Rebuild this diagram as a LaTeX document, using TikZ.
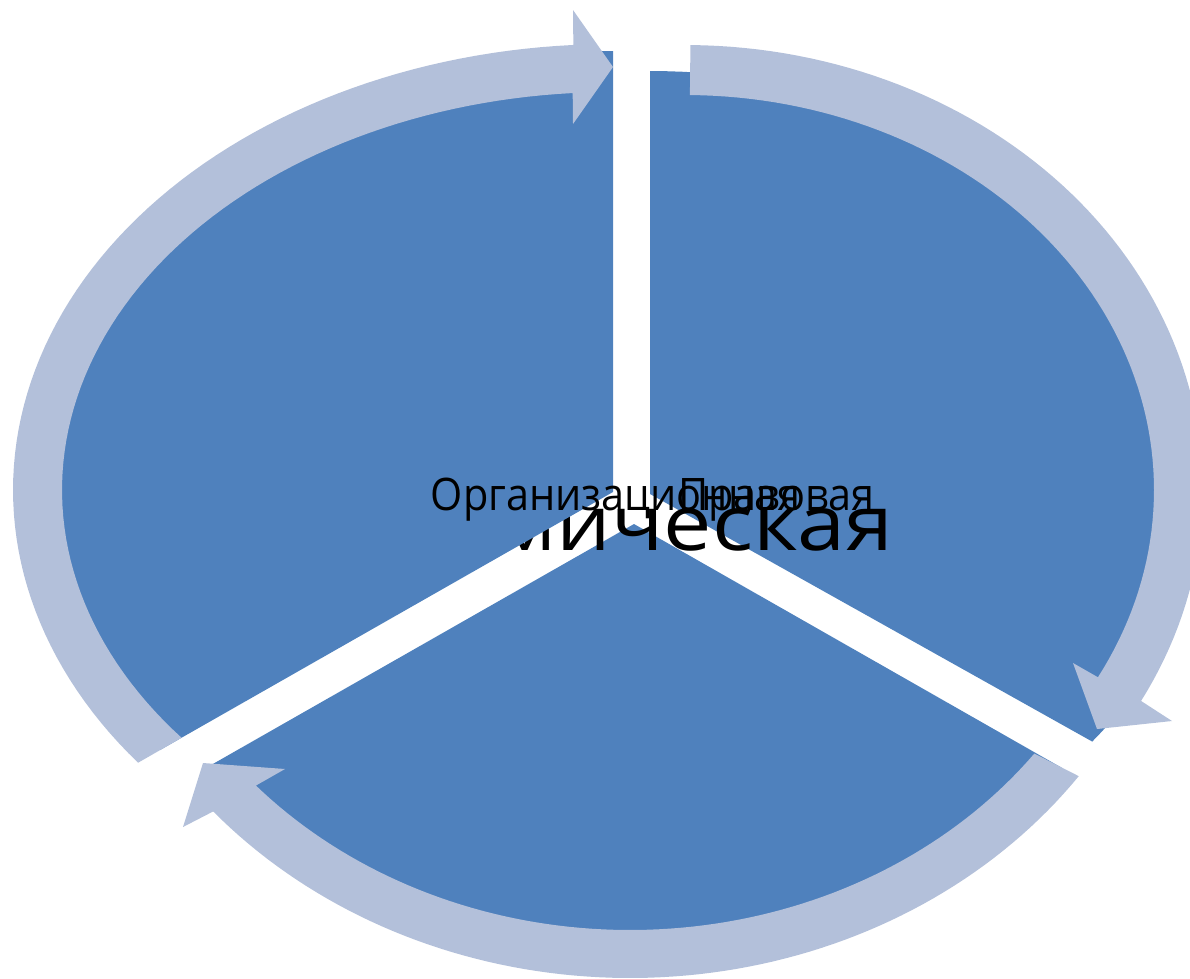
\documentclass[tikz,border=0pt]{standalone}
\usepackage{fontspec}
\setmainfont{Open Sans}
\usepackage{tikz}
\usetikzlibrary{calc}
\definecolor{segblue}{RGB}{79,129,189}
\definecolor{ringblue}{RGB}{179,192,218}

\begin{document}
\begin{tikzpicture}[x=1pt,y=-1pt,
    segment/.style={fill=segblue},
    ring/.style={fill=ringblue},
    smalllabel/.style={font=\fontsize{44.8}{50}\selectfont,inner sep=0pt,xscale=0.924},
    biglabel/.style={font=\fontsize{77}{84}\selectfont,inner sep=0pt,xscale=1.12}]
    \useasboundingbox (0,0) rectangle (1190,978);
    \clip (0,0) rectangle (1190,978);
    % Pie segments (exploded), drawn bottom and right first
    \fill[segment] (634,524) -- (1063,768.5)
      -- plot[domain=37.4:142.35,samples=80] ({632+540*cos(\x)},{500+440*sin(\x)})
      -- cycle;
    \fill[segment] (650,494) -- (650,71)
      -- plot[domain=-90:36.9,samples=80] ({650+553*cos(\x)},{490+419*sin(\x)})
      -- cycle;
    % Large label sits under the left segment
    \node[biglabel,anchor=base east] (econ) at (894,550) {Экономическая};
    \fill[segment] (613,492) -- (160,750)
      -- plot[domain=143.7:270,samples=80] ({612+560*cos(\x)},{490+439*sin(\x)})
      -- (613,51) -- cycle;
    % Labels
    \node[smalllabel,anchor=base] (org) at (615.5,510) {Организационная};
    \node[smalllabel,anchor=base east] (law) at (875,510) {Правовая};
    % Circular arrows round the segments
    \fill[ring] plot[domain=142.3:266.3,samples=80] ({612+599*cos(\x)},{490+446*sin(\x)})
      -- (573,10) -- (613,67) -- (573,124)
      -- plot[domain=265.9:141.5,samples=80] ({612+550*cos(\x)},{490+398*sin(\x)})
      -- cycle;
    \fill[ring] plot[domain=-89.4:28.3,samples=80] ({685+518*cos(\x)},{490+445*sin(\x)})
      -- (1172,721) -- (1097,729) -- (1073,663)
      -- plot[domain=28.3:-89.4,samples=80] ({685+469*cos(\x)},{490+395*sin(\x)})
      -- cycle;
    \fill[ring] plot[domain=35.9:138.8,samples=80] ({630+554*cos(\x)},{490+488*sin(\x)})
      -- (183,827) -- (203,763) -- (285,769)
      -- plot[domain=137.8:36.8,samples=80] ({630+505*cos(\x)},{490+440*sin(\x)})
      -- cycle;
\end{tikzpicture}
\end{document}
